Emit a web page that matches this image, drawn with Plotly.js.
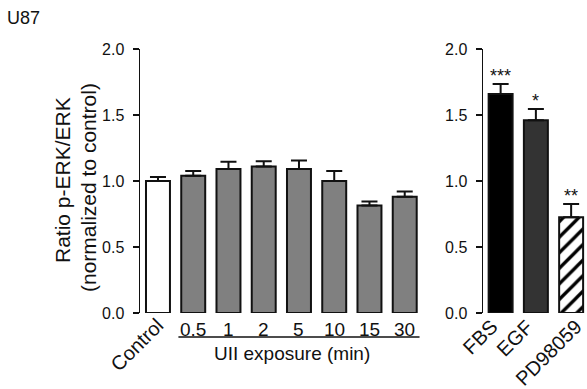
<!DOCTYPE html>
<html>
<head>
<meta charset="utf-8">
<script src="https://cdn.plot.ly/plotly-3.0.1.min.js"></script>
<style>
html,body{margin:0;padding:0;background:#fff;}
#chart{width:587px;height:389px;}
</style>
</head>
<body>
<div id="chart"></div>
<script>
// ---- data ----
const categoriesLeft = ['Control', '0.5', '1', '2', '5', '10', '15', '30'];
const valuesLeft = [1.0, 1.04, 1.09, 1.11, 1.09, 1.0, 0.815, 0.88];
const errorsLeft = [0.03, 0.035, 0.055, 0.04, 0.065, 0.075, 0.03, 0.04];

const categoriesRight = ['FBS', 'EGF', 'PD98059'];
const valuesRight = [1.66, 1.46, 0.725];
const errorsRight = [0.075, 0.085, 0.10];
const significance = ['***', '*', '**'];

const yTickVals = [0, 0.5, 1.0, 1.5, 2.0];
const yTickText = ['0.0', '0.5', '1.0', '1.5', '2.0'];

const panelLabel = 'U87';
const yTitleLine1 = 'Ratio p-ERK/ERK';
const yTitleLine2 = '(normalized to control)';
const xTitleLeft = 'UII exposure (min)';

// ---- styling ----
const W = 587, H = 389;
const px = v => v / W;
const py = v => 1 - v / H;
const FONT = 'Liberation Sans, Arial, Helvetica, sans-serif';
const INK = '#111';

const leftColors = categoriesLeft.map((c, i) => i === 0 ? '#ffffff' : '#808080');
const rightColors = ['#000000', '#333333', '#ffffff'];
const hatched = [false, false, true];

const errStyle = {thickness: 2, width: 8, color: INK};

function pick(arr, keep) { return arr.filter((v, i) => keep(i)); }

const traces = [
  {
    type: 'bar',
    x: categoriesLeft,
    y: valuesLeft,
    xaxis: 'x', yaxis: 'y',
    width: 0.68,
    marker: {color: leftColors, line: {color: INK, width: 2}},
    error_y: Object.assign({type: 'data', symmetric: false, array: errorsLeft,
      arrayminus: errorsLeft.map(() => 0)}, errStyle),
    hoverinfo: 'x+y',
    showlegend: false
  },
  {
    type: 'bar',
    x: pick(categoriesRight, i => !hatched[i]),
    y: pick(valuesRight, i => !hatched[i]),
    xaxis: 'x2', yaxis: 'y2',
    width: 0.68,
    marker: {color: pick(rightColors, i => !hatched[i]), line: {color: INK, width: 2}},
    error_y: Object.assign({type: 'data', symmetric: false, array: pick(errorsRight, i => !hatched[i]),
      arrayminus: pick(errorsRight, i => !hatched[i]).map(() => 0)}, errStyle),
    hoverinfo: 'x+y',
    showlegend: false
  },
  {
    type: 'bar',
    x: pick(categoriesRight, i => hatched[i]),
    y: pick(valuesRight, i => hatched[i]),
    xaxis: 'x2', yaxis: 'y2',
    width: 0.68,
    marker: {
      color: '#ffffff',
      line: {color: INK, width: 2},
      pattern: {shape: '/', fgcolor: '#000000', fgopacity: 1, bgcolor: '#ffffff', fillmode: 'overlay', size: 11, solidity: 0.3}
    },
    error_y: Object.assign({type: 'data', symmetric: false, array: pick(errorsRight, i => hatched[i]),
      arrayminus: pick(errorsRight, i => hatched[i]).map(() => 0)}, errStyle),
    hoverinfo: 'x+y',
    showlegend: false
  }
];

const xBase = {
  type: 'category', showticklabels: false, ticks: '', showline: false,
  showgrid: false, zeroline: false, fixedrange: true
};
const yBase = {
  range: [0, 2], tickmode: 'array', tickvals: yTickVals, ticktext: yTickText,
  showline: true, linecolor: INK, linewidth: 1.5,
  ticks: 'outside', ticklen: 6, tickwidth: 1.5, tickcolor: INK,
  showgrid: false, zeroline: false, fixedrange: true,
  tickfont: {family: FONT, size: 16, color: INK},
  ticklabelstandoff: 5
};

const annotations = [];
// panel label
annotations.push({xref: 'paper', yref: 'paper', x: px(5), y: py(18), xanchor: 'left', yanchor: 'middle',
  text: panelLabel, showarrow: false, font: {family: FONT, size: 18, color: INK}});
// y titles (two lines)
annotations.push({xref: 'paper', yref: 'paper', x: px(62), y: py(180), xanchor: 'center', yanchor: 'middle',
  text: yTitleLine1, textangle: -90, showarrow: false, font: {family: FONT, size: 21, color: INK}});
annotations.push({xref: 'paper', yref: 'paper', x: px(88), y: py(188), xanchor: 'center', yanchor: 'middle',
  text: yTitleLine2, textangle: -90, showarrow: false, font: {family: FONT, size: 21, color: INK}});
// left x labels
categoriesLeft.forEach((c, i) => {
  if (i === 0) {
    annotations.push({xref: 'x', yref: 'paper', x: i, y: py(312), xanchor: 'right', yanchor: 'top',
      xshift: 12, text: c, textangle: -45, showarrow: false, font: {family: FONT, size: 20, color: INK}});
  } else {
    annotations.push({xref: 'x', yref: 'paper', x: i, y: py(329), xanchor: 'center', yanchor: 'middle',
      text: c, showarrow: false, font: {family: FONT, size: 19, color: INK}});
  }
});
// x title left
annotations.push({xref: 'x', yref: 'paper', x: 3.8, y: py(353),
  xanchor: 'center', yanchor: 'middle', text: xTitleLeft, showarrow: false,
  font: {family: FONT, size: 19, color: INK}});
// right x labels
const rightShift = [4, 4, 17];
categoriesRight.forEach((c, i) => {
  annotations.push({xref: 'x2', yref: 'paper', x: i, y: py(313), xanchor: 'right', yanchor: 'top',
    xshift: rightShift[i], text: c, textangle: -45, showarrow: false,
    font: {family: FONT, size: 20, color: INK}});
});
// significance marks
categoriesRight.forEach((c, i) => {
  annotations.push({xref: 'x2', yref: 'y2', x: i, y: valuesRight[i] + errorsRight[i],
    xanchor: 'center', yanchor: 'bottom', yshift: -4, text: significance[i], showarrow: false,
    font: {family: FONT, size: 18, color: INK}});
});

const shapes = [{
  type: 'line', xref: 'x', yref: 'paper',
  x0: 1 - 0.42, x1: categoriesLeft.length - 1 + 0.42,
  y0: py(337), y1: py(337),
  line: {color: INK, width: 1.5}
}];

const layout = {
  width: W, height: H,
  margin: {l: 0, r: 0, t: 0, b: 0},
  paper_bgcolor: '#ffffff', plot_bgcolor: '#ffffff',
  showlegend: false,
  barmode: 'overlay',
  xaxis: Object.assign({}, xBase, {domain: [px(140), px(422)], range: [-0.51, 7.49], anchor: 'y',
    categoryorder: 'array', categoryarray: categoriesLeft}),
  yaxis: Object.assign({}, yBase, {domain: [py(313), py(49)], anchor: 'x'}),
  xaxis2: Object.assign({}, xBase, {domain: [px(483), 1], range: [-0.5, 2.45], anchor: 'y2',
    categoryorder: 'array', categoryarray: categoriesRight}),
  yaxis2: Object.assign({}, yBase, {domain: [py(313), py(49)], anchor: 'x2'}),
  annotations: annotations,
  shapes: shapes,
  font: {family: FONT, color: INK}
};

Plotly.newPlot('chart', traces, layout, {displayModeBar: false, staticPlot: true});
</script>
</body>
</html>
